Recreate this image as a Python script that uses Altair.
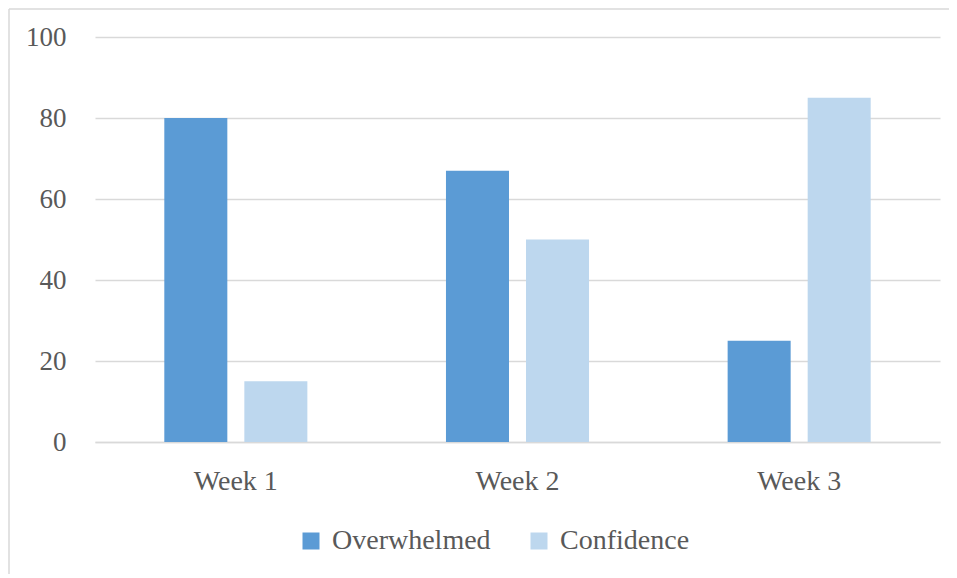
import altair as alt
import pandas as pd

weeks = ["Week 1", "Week 2", "Week 3"]
series = ["Overwhelmed", "Confidence"]
overwhelmed = [80, 67, 25]
confidence = [15, 50, 85]
colors = ["#5B9BD5", "#BDD7EE"]
y_ticks = [0, 20, 40, 60, 80, 100]

rows = []
for i, w in enumerate(weeks):
    rows.append({"week": w, "series": "Overwhelmed", "value": overwhelmed[i]})
    rows.append({"week": w, "series": "Confidence", "value": confidence[i]})
df = pd.DataFrame(rows)

FONT = "Liberation Serif"
TXT = "#595959"
GRID = "#d9d9d9"

bars = alt.Chart(df).mark_bar().encode(
    x=alt.X("week:N", sort=weeks,
            scale=alt.Scale(paddingInner=0, paddingOuter=0),
            axis=alt.Axis(title=None, labelAngle=0, ticks=False, domain=True,
                          domainColor=GRID, domainWidth=1.5, labelPadding=25, grid=False,
                          labelFont=FONT, labelFontSize=28, labelColor=TXT)),
    xOffset=alt.XOffset("series:N", sort=series,
                        scale=alt.Scale(paddingInner=0.2125, paddingOuter=0.866)),
    y=alt.Y("value:Q", scale=alt.Scale(domain=[0, 100]),
            axis=alt.Axis(values=y_ticks, title=None, ticks=False, domain=False,
                          gridColor=GRID, gridWidth=1.5, labelPadding=29,
                          labelFont=FONT, labelFontSize=27, labelColor=TXT)),
    color=alt.Color("series:N", sort=series,
                    scale=alt.Scale(domain=series, range=colors),
                    legend=alt.Legend(title=None, orient="none", legendX=202, legendY=490,
                                      direction="horizontal", symbolType="square",
                                      symbolSize=289, symbolStrokeWidth=0,
                                      labelFont=FONT, labelFontSize=28, labelColor=TXT,
                                      labelOffset=7, columnPadding=34, padding=0)),
)

frame = pd.DataFrame({"a": [0]})
left_line = alt.Chart(frame).mark_rule(color=GRID, strokeWidth=1.5).encode(
    x=alt.value(-86), y=alt.value(-28), y2=alt.value(560))
top_line = alt.Chart(frame).mark_rule(color=GRID, strokeWidth=1.5).encode(
    x=alt.value(-86), x2=alt.value(900), y=alt.value(-28))

chart = alt.layer(bars, left_line, top_line).properties(
    width=845, height=405,
    autosize=alt.AutoSizeParams(type="none"),
    padding={"left": 87, "top": 29, "right": 9, "bottom": 132},
).configure_view(stroke=None)

chart.save("out.html", embed_options={"renderer": "svg", "actions": False})
